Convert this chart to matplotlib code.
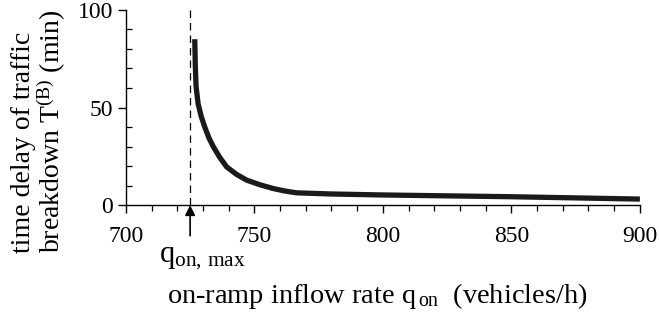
import numpy as np
import matplotlib
matplotlib.use("Agg")
from matplotlib import pyplot as plt

plt.rcParams['font.family'] = ['Liberation Serif', 'DejaVu Serif']
plt.rcParams['mathtext.fontset'] = 'custom'
plt.rcParams['mathtext.rm'] = 'Liberation Serif'
plt.rcParams['mathtext.it'] = 'Liberation Serif'
plt.rcParams['mathtext.bf'] = 'Liberation Serif:bold'

# data
q_on = [726.8, 727.0, 727.3, 728.1, 729.3, 730.7, 732.3, 734.0, 736.5, 739.2,
        743.0, 747.0, 752.0, 757.3, 762.0, 766.4, 780.0, 800.0, 850.0, 900.0]
t_b = [85.0, 72.0, 61.0, 52.0, 45.5, 40.0, 34.5, 30.0, 24.5, 19.6,
       15.8, 12.8, 10.5, 8.5, 7.2, 6.3, 5.7, 5.2, 4.3, 3.1]
q_on_max = 725
x_ticks = [700, 750, 800, 850, 900]
y_ticks = [0, 50, 100]

fig = plt.figure(figsize=(6.59, 3.2), dpi=100)
ax = fig.add_axes([0.191, 0.359, 0.780, 0.610])

ax.plot(q_on, t_b, color='#1a1a1a', lw=3.8, solid_capstyle='butt', solid_joinstyle='round')
ax.axvline(q_on_max, color='black', lw=0.9, ls=(0, (6, 4)))

ax.set_xlim(700, 900)
ax.set_ylim(0, 100)
ax.set_xticks(x_ticks)
ax.set_yticks(y_ticks)
ax.set_xticks(np.arange(700, 901, 10), minor=True)
ax.set_yticks(np.arange(0, 101, 10), minor=True)

for s in ['top', 'right']:
    ax.spines[s].set_visible(False)
ax.spines['left'].set_linewidth(1.0)
ax.spines['bottom'].set_linewidth(1.0)

ax.tick_params(axis='x', which='major', direction='out', length=6, width=1, pad=9, labelsize=17)
ax.tick_params(axis='x', which='minor', direction='out', length=4, width=0.9)
ax.tick_params(axis='y', which='major', direction='out', length=6, width=1, pad=3, labelsize=17)
ax.tick_params(axis='y', which='minor', direction='in', length=4, width=0.9)

# x label
fig.text(377 / 659, 17 / 320, r'on-ramp inflow rate q$_{\,\mathrm{on}}$  (vehicles/h)',
         ha='center', va='baseline', fontsize=20.4)

# y label, two lines, starting at the same height
fig.text(39 / 659, 67 / 320, 'time delay of traffic\nbreakdown T$^{\\mathrm{(B)}}$ (min)',
         rotation=90, ha='center', va='bottom', multialignment='left',
         fontsize=20, linespacing=0.95)

# q_on,max marker
ax.annotate('', xy=(q_on_max, 0), xytext=(0, -22), textcoords='offset points',
            annotation_clip=False,
            arrowprops=dict(arrowstyle='-|>', color='black', lw=1.2,
                            mutation_scale=15, shrinkA=0, shrinkB=0))
fig.text(202 / 659, 58 / 320, r'q$_{\mathrm{on,\,max}}$', ha='center', va='baseline',
         fontsize=22)

fig.savefig('out.png', dpi=100)
